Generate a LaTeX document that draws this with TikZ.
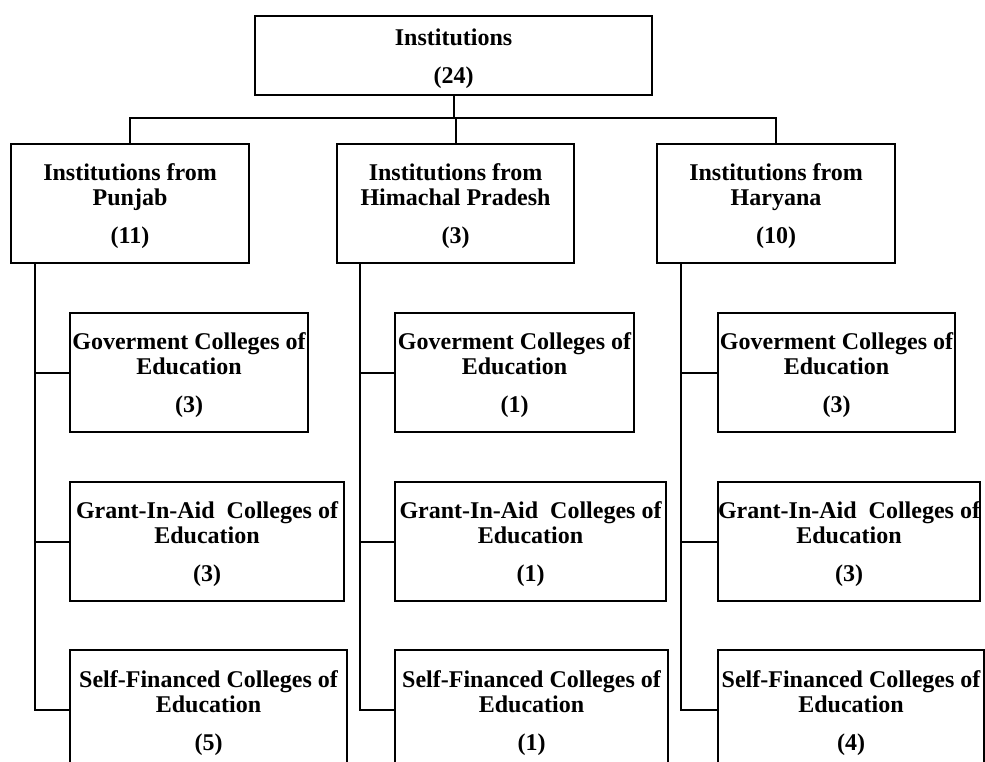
\documentclass[tikz,border=0pt]{standalone}
\usepackage{fontspec}
\setmainfont{Liberation Serif}
\newcommand{\firststrut}{\rule{0pt}{23pt}}
\begin{document}
\begin{tikzpicture}[x=1pt,y=-1pt,
  box/.style={draw, line width=2.1pt, inner sep=0pt, align=center,
    minimum height=119pt, anchor=north west,
    font=\bfseries\fontsize{24}{25}\selectfont},
  link/.style={draw, line width=2.1pt}]
\useasboundingbox (0,0) rectangle (985,762);
\clip (0,0) rectangle (985,762);
% top
\node[box, minimum width=397pt, minimum height=79pt] (top) at (254,15) {\firststrut Institutions\\[13pt](24)};
% states
\node[box, minimum width=238pt] (pb) at (10,143) {\firststrut Institutions from\\Punjab\\[13pt](11)};
\node[box, minimum width=237pt] (hp) at (336,143) {\firststrut Institutions from\\Himachal Pradesh\\[13pt](3)};
\node[box, minimum width=238pt] (hr) at (656,143) {\firststrut Institutions from\\Haryana\\[13pt](10)};
% Punjab
\node[box, minimum width=238pt] (pbg) at (69,312) {\firststrut Goverment Colleges of\\Education\\[13pt](3)};
\node[box, minimum width=274pt] (pba) at (69,481) {\firststrut Grant-In-Aid\ \ Colleges of\\Education\\[13pt](3)};
\node[box, minimum width=277pt] (pbf) at (69,649) {\firststrut Self-Financed Colleges of\\Education\\[13pt](5)};
% Himachal
\node[box, minimum width=239pt] (hpg) at (394,312) {\firststrut Goverment Colleges of\\Education\\[13pt](1)};
\node[box, minimum width=271pt] (hpa) at (394,481) {\firststrut Grant-In-Aid\ \ Colleges of\\Education\\[13pt](1)};
\node[box, minimum width=273pt] (hpf) at (394,649) {\firststrut Self-Financed Colleges of\\Education\\[13pt](1)};
% Haryana
\node[box, minimum width=237pt] (hrg) at (717,312) {\firststrut Goverment Colleges of\\Education\\[13pt](3)};
\node[box, minimum width=262pt] (hra) at (717,481) {\firststrut Grant-In-Aid\ \ Colleges of\\Education\\[13pt](3)};
\node[box, minimum width=266pt] (hrf) at (717,649) {\firststrut Self-Financed Colleges of\\Education\\[13pt](4)};
% connectors top
\coordinate (bar) at (0,118);
\draw[link] (top.south) -- (top.south |- bar);
\draw[link] (pb.north) -- (pb.north |- bar) -- (hr.north |- bar) -- (hr.north);
\draw[link] (hp.north) -- (hp.north |- bar);
% spines
\coordinate (pbs) at ([xshift=25pt]pb.south west);
\coordinate (hps) at ([xshift=24pt]hp.south west);
\coordinate (hrs) at ([xshift=25pt]hr.south west);
\draw[link] (pbs) |- (pbg.west);
\draw[link] (pbs) |- (pba.west);
\draw[link] (pbs) |- (pbf.west);
\draw[link] (hps) |- (hpg.west);
\draw[link] (hps) |- (hpa.west);
\draw[link] (hps) |- (hpf.west);
\draw[link] (hrs) |- (hrg.west);
\draw[link] (hrs) |- (hra.west);
\draw[link] (hrs) |- (hrf.west);
\end{tikzpicture}
\end{document}
